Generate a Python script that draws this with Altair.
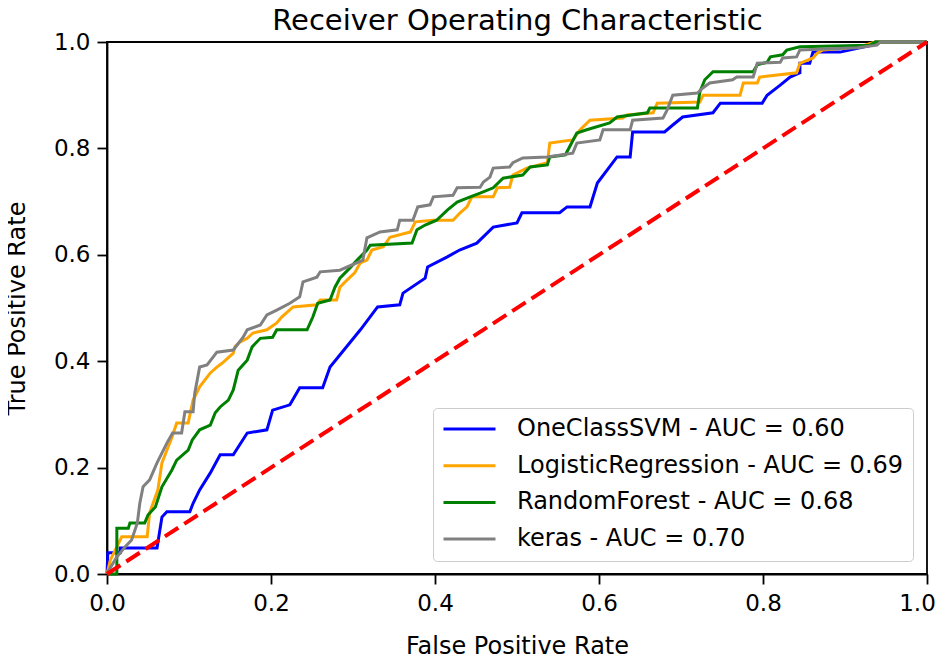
import altair as alt
import pandas as pd

models = [
    "OneClassSVM - AUC = 0.60",
    "LogisticRegression - AUC = 0.69",
    "RandomForest - AUC = 0.68",
    "keras - AUC = 0.70",
]
colors = ["#0000ff", "#ffa500", "#008000", "#808080"]

svm_roc = [(0, 0), (0.001, 0.04), (0.016, 0.04), (0.016, 0.049), (0.061, 0.049), (0.067, 0.107),
           (0.073, 0.117), (0.101, 0.117), (0.105, 0.133), (0.113, 0.158), (0.126, 0.19), (0.138, 0.224),
           (0.154, 0.224), (0.171, 0.265), (0.195, 0.271), (0.202, 0.308), (0.223, 0.318), (0.235, 0.35),
           (0.263, 0.35), (0.272, 0.389), (0.309, 0.459), (0.330, 0.502), (0.357, 0.506), (0.361, 0.528),
           (0.388, 0.556), (0.391, 0.577), (0.415, 0.596), (0.430, 0.609), (0.451, 0.622), (0.471, 0.652),
           (0.500, 0.66), (0.506, 0.679), (0.552, 0.679), (0.561, 0.69), (0.589, 0.69), (0.598, 0.735),
           (0.622, 0.784), (0.638, 0.784), (0.641, 0.831), (0.680, 0.831), (0.690, 0.844), (0.702, 0.859),
           (0.739, 0.867), (0.748, 0.885), (0.799, 0.885), (0.805, 0.90), (0.821, 0.919), (0.833, 0.934),
           (0.845, 0.942), (0.845, 0.96), (0.857, 0.96), (0.861, 0.981), (0.894, 0.981), (0.933, 0.994),
           (0.937, 1.0), (1.0, 1.0)]

lr_roc = [(0, 0), (0.004, 0.026), (0.018, 0.070), (0.049, 0.070), (0.052, 0.115), (0.062, 0.158),
          (0.067, 0.209), (0.079, 0.256), (0.085, 0.284), (0.099, 0.284), (0.105, 0.327), (0.113, 0.352),
          (0.126, 0.378), (0.134, 0.389), (0.141, 0.397), (0.154, 0.415), (0.156, 0.427), (0.162, 0.436),
          (0.171, 0.443), (0.178, 0.453), (0.195, 0.459), (0.207, 0.472), (0.213, 0.483), (0.227, 0.502),
          (0.256, 0.506), (0.260, 0.515), (0.280, 0.515), (0.284, 0.539), (0.293, 0.553), (0.302, 0.566),
          (0.309, 0.585), (0.317, 0.590), (0.323, 0.609), (0.337, 0.615), (0.345, 0.633), (0.370, 0.643),
          (0.376, 0.662), (0.398, 0.665), (0.422, 0.665), (0.430, 0.678), (0.439, 0.690), (0.445, 0.709),
          (0.471, 0.709), (0.476, 0.726), (0.491, 0.727), (0.495, 0.750), (0.512, 0.763), (0.537, 0.773),
          (0.540, 0.810), (0.568, 0.816), (0.577, 0.835), (0.589, 0.853), (0.629, 0.857), (0.634, 0.863),
          (0.666, 0.867), (0.671, 0.885), (0.723, 0.887), (0.727, 0.900), (0.772, 0.900), (0.776, 0.923),
          (0.793, 0.923), (0.796, 0.934), (0.841, 0.942), (0.845, 0.960), (0.861, 0.970), (0.866, 0.979),
          (0.873, 0.985), (0.918, 0.991), (0.937, 1.0), (1.0, 1.0)]

rf_roc = [(0, 0), (0.012, 0.0), (0.012, 0.086), (0.026, 0.086), (0.028, 0.096), (0.046, 0.096),
          (0.050, 0.111), (0.059, 0.126), (0.067, 0.164), (0.079, 0.195), (0.085, 0.214), (0.099, 0.233),
          (0.104, 0.252), (0.113, 0.271), (0.126, 0.280), (0.132, 0.303), (0.138, 0.314), (0.148, 0.327),
          (0.154, 0.346), (0.160, 0.383), (0.171, 0.402), (0.177, 0.427), (0.187, 0.443), (0.202, 0.445),
          (0.207, 0.459), (0.244, 0.459), (0.251, 0.483), (0.257, 0.509), (0.272, 0.515), (0.278, 0.539),
          (0.284, 0.556), (0.296, 0.575), (0.305, 0.590), (0.317, 0.609), (0.321, 0.618), (0.372, 0.622),
          (0.378, 0.647), (0.388, 0.656), (0.402, 0.665), (0.415, 0.684), (0.427, 0.699), (0.443, 0.709),
          (0.455, 0.716), (0.471, 0.726), (0.483, 0.744), (0.507, 0.750), (0.516, 0.765), (0.537, 0.769),
          (0.540, 0.784), (0.559, 0.788), (0.573, 0.829), (0.585, 0.835), (0.613, 0.848), (0.622, 0.859),
          (0.659, 0.867), (0.662, 0.876), (0.720, 0.876), (0.723, 0.906), (0.729, 0.929), (0.739, 0.944),
          (0.788, 0.944), (0.793, 0.957), (0.805, 0.962), (0.809, 0.972), (0.824, 0.976), (0.829, 0.985),
          (0.845, 0.991), (0.930, 0.994), (0.937, 1.0), (1.0, 1.0)]

keras_roc = [(0, 0), (0.001, 0.004), (0.012, 0.032), (0.022, 0.051), (0.030, 0.064), (0.037, 0.096),
             (0.040, 0.133), (0.044, 0.164), (0.052, 0.177), (0.061, 0.209), (0.073, 0.246), (0.080, 0.265),
             (0.091, 0.265), (0.095, 0.305), (0.105, 0.305), (0.107, 0.340), (0.113, 0.389), (0.122, 0.393),
             (0.134, 0.417), (0.154, 0.421), (0.166, 0.445), (0.171, 0.459), (0.187, 0.468), (0.195, 0.487),
             (0.207, 0.496), (0.223, 0.509), (0.235, 0.521), (0.239, 0.549), (0.256, 0.558), (0.260, 0.568),
             (0.284, 0.571), (0.312, 0.590), (0.317, 0.632), (0.333, 0.643), (0.354, 0.647), (0.357, 0.665),
             (0.373, 0.665), (0.379, 0.690), (0.394, 0.694), (0.398, 0.709), (0.422, 0.712), (0.427, 0.726),
             (0.455, 0.727), (0.459, 0.737), (0.467, 0.746), (0.471, 0.763), (0.491, 0.765), (0.495, 0.773),
             (0.507, 0.782), (0.537, 0.784), (0.568, 0.791), (0.573, 0.810), (0.601, 0.816), (0.605, 0.835),
             (0.638, 0.835), (0.641, 0.853), (0.678, 0.857), (0.683, 0.872), (0.690, 0.900), (0.720, 0.904),
             (0.727, 0.914), (0.735, 0.923), (0.763, 0.929), (0.768, 0.934), (0.788, 0.934), (0.793, 0.960),
             (0.821, 0.962), (0.824, 0.970), (0.841, 0.972), (0.845, 0.985), (0.915, 0.989), (0.939, 0.994),
             (0.943, 1.0), (1.0, 1.0)]

diag_fpr = [0.0, 1.0]
diag_tpr = [0.0, 1.0]
tick_values = [0.0, 0.2, 0.4, 0.6, 0.8, 1.0]
chart_title = "Receiver Operating Characteristic"

rows = []
for name, pts in zip(models, [svm_roc, lr_roc, rf_roc, keras_roc]):
    for i, (f, t) in enumerate(pts):
        rows.append({"model": name, "fpr": f, "tpr": t, "idx": i})
df = pd.DataFrame(rows)
diag = pd.DataFrame({"fpr": diag_fpr, "tpr": diag_tpr})

FONT = "DejaVu Sans"
xs = alt.Scale(domain=[0, 1], nice=False, zero=False)
ys = alt.Scale(domain=[0, 1], nice=False, zero=False)

y_axis = alt.Axis(title="True Positive Rate", values=tick_values, format=".1f",
                  labelPadding=7, titlePadding=24)

lines = alt.Chart(df).mark_line(strokeWidth=3, clip=False).encode(
    x=alt.X("fpr:Q", scale=xs,
            axis=alt.Axis(title="False Positive Rate", values=tick_values, format=".1f",
                          labelPadding=8, titlePadding=19, orient="bottom",
                          labelOffset={"condition": {"test": "datum.value >= 1", "value": -10},
                                       "value": 0})),
    y=alt.Y("tpr:Q", scale=ys, axis=y_axis),
    color=alt.Color("model:N", sort=models,
                    scale=alt.Scale(domain=models, range=colors),
                    legend=alt.Legend(title=None, orient="none", legendX=326, legendY=366,
                                      symbolType="stroke", symbolSize=2704, symbolStrokeWidth=3,
                                      clipHeight=24, rowPadding=12.7, labelOffset=20, padding=9,
                                      strokeColor="#cccccc", fillColor="white", cornerRadius=4,
                                      labelFontSize=24, labelFont=FONT, labelColor="black",
                                      labelLimit=0)),
    order=alt.Order("idx:Q"),
)

diag_line = alt.Chart(diag).mark_line(color="#ff0000", strokeWidth=4, strokeDash=[16, 7], clip=False).encode(
    x=alt.X("fpr:Q", scale=xs,
            axis=alt.Axis(title=chart_title, orient="top", labels=False, ticks=False, domain=False,
                          titleFontSize=29, titlePadding=7)),
    y=alt.Y("tpr:Q", scale=ys, axis=y_axis),
)

chart = alt.layer(lines, diag_line).resolve_axis(x="independent").properties(
    width=820, height=532,
    padding={"left": 99, "top": 34, "right": 9, "bottom": 86},
    autosize=alt.AutoSizeParams(type="none"),
).configure_view(stroke="black", strokeWidth=1.8).configure_axis(
    domainColor="black", domainWidth=1.8, tickColor="black", tickWidth=1.8, tickSize=10,
    labelFontSize=23, labelFont=FONT, labelColor="black", labelFlush=False,
    titleFontSize=24, titleFont=FONT, titleFontWeight="normal", titleColor="black", grid=False,
)

chart.save("out.html", embed_options={"renderer": "svg", "actions": False})
